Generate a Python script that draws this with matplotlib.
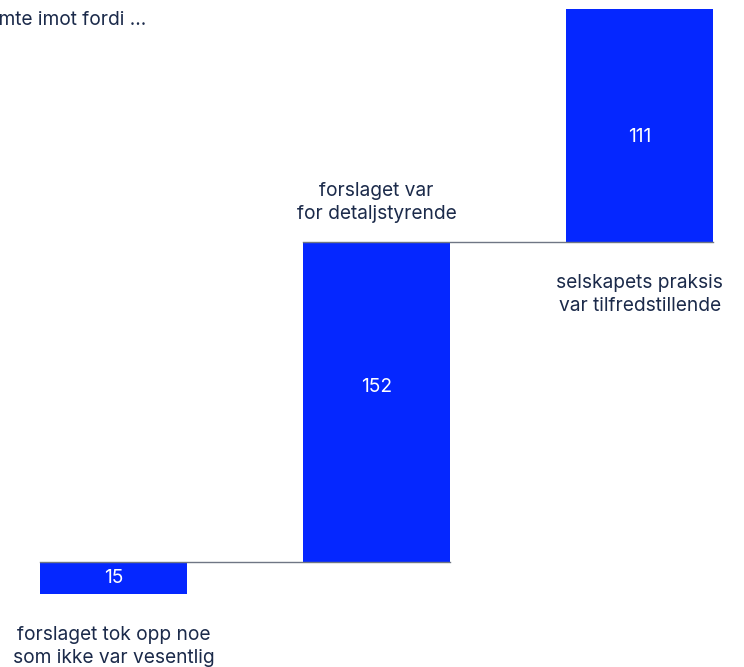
import matplotlib
matplotlib.use("Agg")
import matplotlib.pyplot as plt
import numpy as np

plt.rcParams["font.family"] = ["Inter", "DejaVu Sans"]

TITLE      = "Stemte imot fordi …"
categories = ["forslaget tok opp noe\nsom ikke var vesentlig",
              "forslaget var\nfor detaljstyrende",
              "selskapets praksis\nvar tilfredstillende"]
values     = [15, 152, 111]

BLUE  = "#0527ff"
NAVY  = "#1b2a4a"
LINE  = "#6f7684"
WIDTH = 0.56
FS    = 13.8

# waterfall: each bar starts where the previous one ended
bottoms = np.concatenate([[0], np.cumsum(values)[:-1]])
tops    = bottoms + np.array(values)
xs      = np.arange(len(values))

fig = plt.figure(figsize=(7.44, 6.67), dpi=100)
ax = fig.add_axes([0, 0, 1, 1])
ax.set_xlim(-0.4316, 2.397)
ax.set_ylim(-34.7, 282.2)
ax.axis("off")

ax.bar(xs, values, bottom=bottoms, width=WIDTH, color=BLUE, zorder=2)

# connectors between consecutive bars
for i in range(len(values) - 1):
    ax.plot([xs[i] - WIDTH / 2, xs[i + 1] + WIDTH / 2], [tops[i], tops[i]],
            color=LINE, lw=1.0, zorder=3)

# value labels inside bars (nudged in points)
label_shift = [0, 11, -8]
for x, b, v, dy in zip(xs, bottoms, values, label_shift):
    ax.annotate(str(v), (x, b + v / 2), xytext=(0, dy), textcoords="offset points",
                ha="center", va="center", color="white", fontsize=FS, zorder=4)

# category labels: middle one above its bar, the others below
for i, (x, b, t, lab) in enumerate(zip(xs, bottoms, tops, categories)):
    if i == 1:
        ax.annotate(lab, (x, t), xytext=(0, 14), textcoords="offset points",
                    ha="center", va="bottom", color=NAVY, fontsize=FS,
                    linespacing=1.35)
    else:
        ax.annotate(lab, (x, b), xytext=(0, -23), textcoords="offset points",
                    ha="center", va="top", color=NAVY, fontsize=FS,
                    linespacing=1.35)

fig.text(146 / 744, 1 - 20 / 667, TITLE, ha="right", va="center",
         color=NAVY, fontsize=FS)

fig.savefig("out.png", dpi=100)
